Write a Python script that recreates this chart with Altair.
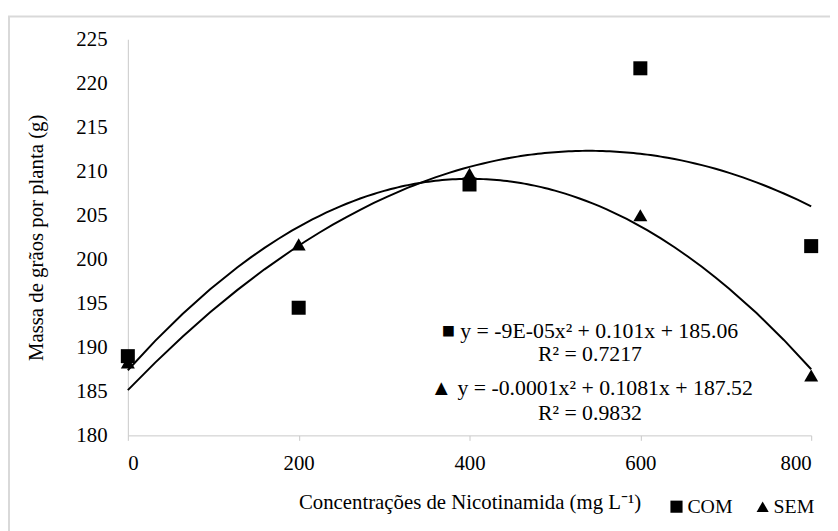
import altair as alt
import pandas as pd

# Data
x_vals = [0, 200, 400, 600, 800]
com_vals = [189.0, 194.5, 208.5, 221.7, 201.5]
sem_vals = [188.3, 201.7, 209.7, 205.0, 186.8]
series_names = ["COM", "SEM"]
x_ticks = [0, 200, 400, 600, 800]
y_ticks = [180, 185, 190, 195, 200, 205, 210, 215, 220, 225]

ann_text = ["■ y = -9E-05x²  + 0.101x + 185.06", "R² = 0.7217",
            "▲ y = -0.0001x² + 0.1081x + 187.52", "R² = 0.9832"]
ann_x = [541, 541, 543, 541]
ann_y = [191.8, 189.2, 185.4, 182.5]

FONT = "Liberation Serif"

rows = []
for name, vals in zip(series_names, [com_vals, sem_vals]):
    for xv, yv in zip(x_vals, vals):
        rows.append({"x": xv, "y": yv, "series": name})
df = pd.DataFrame(rows)
ann = pd.DataFrame({"text": ann_text, "x": ann_x, "y": ann_y})

xscale = alt.Scale(domain=[0, 800], nice=False, zero=False)
yscale = alt.Scale(domain=[180, 225], nice=False, zero=False)

base = alt.Chart(df)

frame = alt.Chart(pd.DataFrame({"a": [0]})).mark_rect(
    fill="transparent", stroke="#d9d9d9", strokeWidth=2
).encode(
    x=alt.value(-120), x2=alt.value(800), y=alt.value(-23), y2=alt.value(700)
)

lines = base.transform_regression(
    "x", "y", method="poly", order=2, groupby=["series"], extent=[0, 800]
).mark_line(color="black", strokeWidth=2).encode(
    x=alt.X("x:Q", scale=xscale),
    y=alt.Y("y:Q", scale=yscale),
    detail="series:N",
)

points = base.mark_point(filled=True, color="black", size=200, opacity=1).encode(
    x=alt.X(
        "x:Q", scale=xscale,
        title="Concentrações de Nicotinamida (mg L⁻¹)",
        axis=alt.Axis(values=x_ticks, grid=False, domainColor="#c8c8c8",
                      tickColor="#c8c8c8", tickSize=5, labelPadding=12,
                      labelFontSize=21, titleFontSize=21, labelFont=FONT,
                      titleFont=FONT, titleFontWeight="normal",
                      labelColor="black", titleColor="black", titlePadding=19),
    ),
    y=alt.Y(
        "y:Q", scale=yscale,
        title="Massa de grãos por planta (g)",
        axis=alt.Axis(values=y_ticks, grid=False, ticks=False,
                      domainColor="#c8c8c8", labelPadding=21,
                      labelFontSize=21, titleFontSize=21, labelFont=FONT,
                      titleFont=FONT, titleFontWeight="normal",
                      labelColor="black", titleColor="black", titlePadding=30),
    ),
    shape=alt.Shape(
        "series:N",
        scale=alt.Scale(domain=series_names, range=["square", "triangle-up"]),
        legend=alt.Legend(title=None, orient="none", legendX=544, legendY=462,
                          direction="horizontal", labelFont=FONT,
                          labelFontSize=20, labelColor="black",
                          symbolFillColor="black", symbolStrokeColor="black",
                          symbolSize=150, labelOffset=1, columnPadding=20,
                          symbolStrokeWidth=0),
    ),
)

texts = alt.Chart(ann).mark_text(
    font=FONT, fontSize=22, color="black", align="center", baseline="middle"
).encode(
    x=alt.X("x:Q", scale=xscale),
    y=alt.Y("y:Q", scale=yscale),
    text="text:N",
)

chart = alt.layer(frame, lines, points, texts).properties(
    width=690, height=400,
    autosize=alt.AutoSizeParams(type="none"),
    padding={"left": 121, "top": 29, "right": 19, "bottom": 94},
).configure_view(stroke=None)

chart.save("out.html", embed_options={"renderer": "svg", "actions": False})
